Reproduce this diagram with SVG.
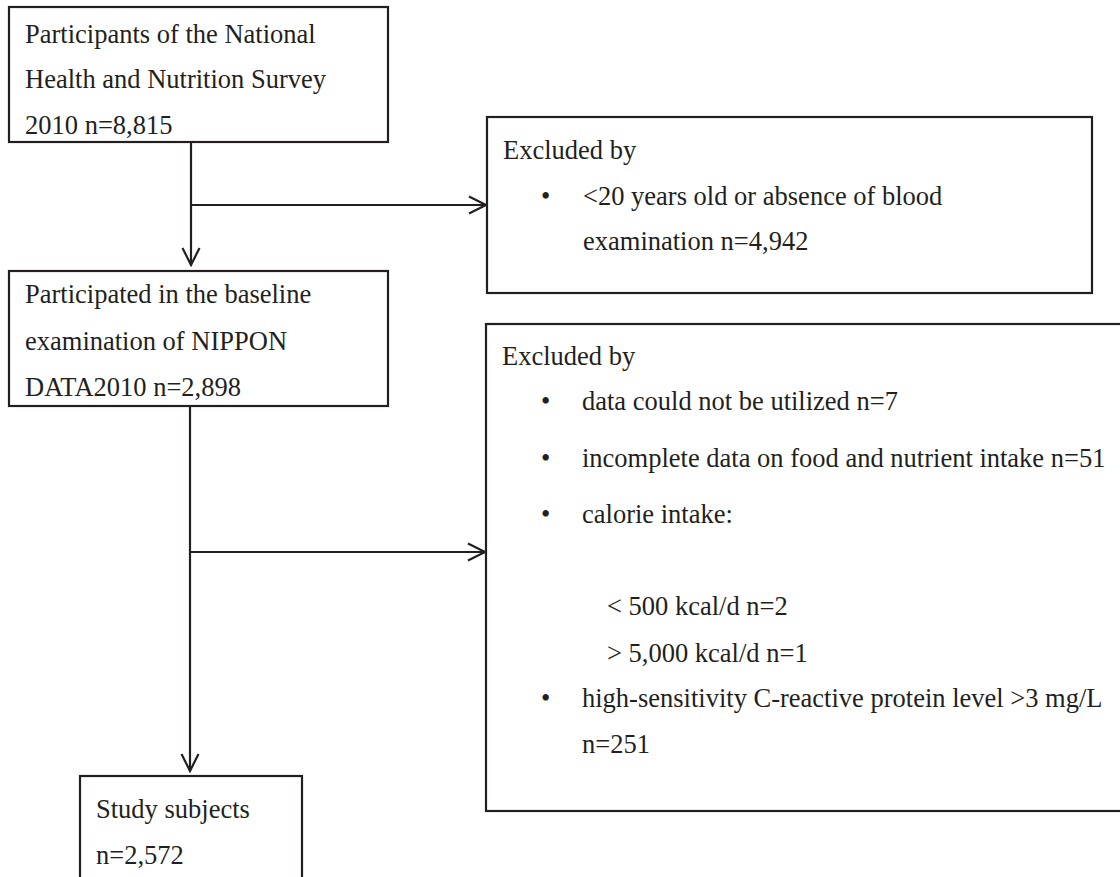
<svg xmlns="http://www.w3.org/2000/svg" width="1120" height="877" viewBox="0 0 1120 877">
<style>
.box{fill:#fff;stroke:#231f20;stroke-width:2.2}
.t{font-family:"Liberation Serif","Times New Roman",serif;font-size:26.5px;fill:#231f20}
.c{fill:none;stroke:#231f20;stroke-width:2.2}
</style>
<defs>
<marker id="arr" viewBox="-18 -10 20 20" markerWidth="20" markerHeight="20" refX="0" refY="0" orient="auto" markerUnits="userSpaceOnUse">
<path d="M-17,-8.5 L0,0 L-17,8.5" fill="none" stroke="#231f20" stroke-width="2.2"/>
</marker>
</defs>
<rect width="1120" height="877" fill="#fff"/>
<g id="connectors">
<line class="c" x1="191" y1="142" x2="191" y2="265" marker-end="url(#arr)"/>
<line class="c" x1="191" y1="205" x2="486" y2="205" marker-end="url(#arr)"/>
<line class="c" x1="190" y1="406" x2="190" y2="771" marker-end="url(#arr)"/>
<line class="c" x1="190" y1="552" x2="485" y2="552" marker-end="url(#arr)"/>
</g>
<g id="node1">
<rect class="box" x="9" y="7" width="379" height="135"/>
<text class="t" x="25" y="43">Participants of the National</text>
<text class="t" x="25" y="88">Health and Nutrition Survey</text>
<text class="t" x="25" y="134">2010 n=8,815</text>
</g>
<g id="node2">
<rect class="box" x="9" y="271" width="379" height="135"/>
<text class="t" x="25" y="303">Participated in the baseline</text>
<text class="t" x="25" y="350">examination of NIPPON</text>
<text class="t" x="25" y="396">DATA2010 n=2,898</text>
</g>
<g id="node3">
<rect class="box" x="487" y="117" width="605" height="176"/>
<text class="t" x="503" y="159">Excluded by</text>
<text class="t" x="541" y="205">•</text>
<text class="t" x="583" y="205">&lt;20 years old or absence of blood</text>
<text class="t" x="583" y="250">examination n=4,942</text>
</g>
<g id="node4">
<rect class="box" x="486" y="324" width="640" height="487"/>
<text class="t" x="502" y="365">Excluded by</text>
<text class="t" x="541" y="410">•</text>
<text class="t" x="582" y="410">data could not be utilized n=7</text>
<text class="t" x="541" y="467">•</text>
<text class="t" x="582" y="467">incomplete data on food and nutrient intake n=51</text>
<text class="t" x="541" y="523">•</text>
<text class="t" x="582" y="523">calorie intake:</text>
<text class="t" x="607" y="615">&lt; 500 kcal/d n=2</text>
<text class="t" x="607" y="662">&gt; 5,000 kcal/d n=1</text>
<text class="t" x="541" y="707">•</text>
<text class="t" x="582" y="707">high-sensitivity C-reactive protein level &gt;3 mg/L</text>
<text class="t" x="582" y="753">n=251</text>
</g>
<g id="node5">
<rect class="box" x="80" y="776" width="222" height="120"/>
<text class="t" x="96" y="818">Study subjects</text>
<text class="t" x="96" y="864">n=2,572</text>
</g>
</svg>
